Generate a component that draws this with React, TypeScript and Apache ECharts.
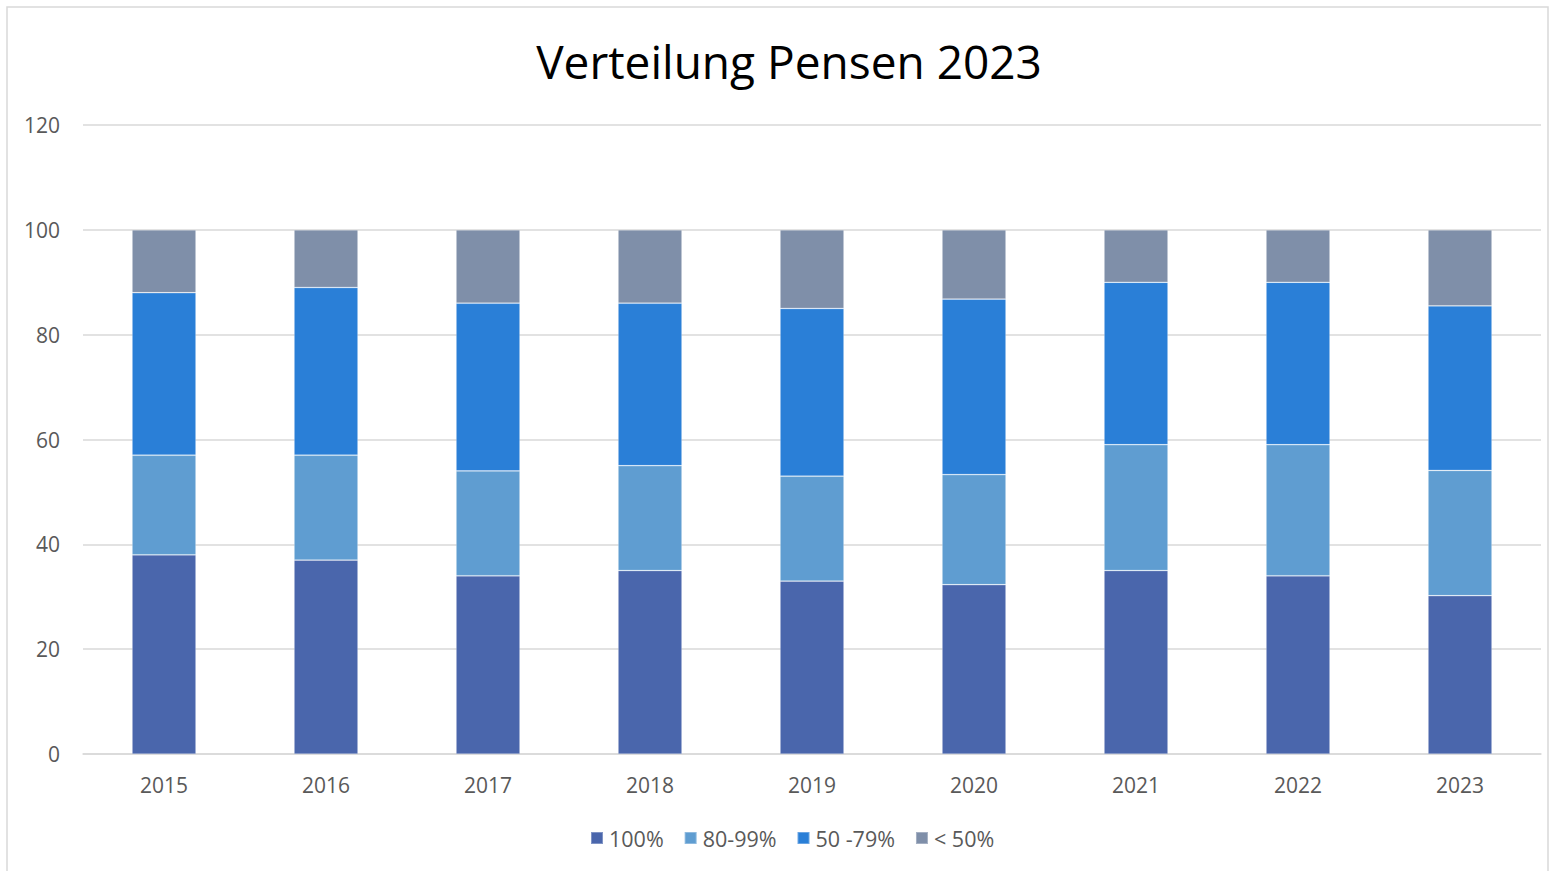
import React, { useEffect, useRef } from "react";
import * as echarts from "echarts";

const years = ["2015", "2016", "2017", "2018", "2019", "2020", "2021", "2022", "2023"];
const full = [38, 37, 34, 35, 33, 32.3, 35, 34, 30.2];
const p80 = [19, 20, 20, 20, 20, 21, 24, 25, 23.9];
const p50 = [31, 32, 32, 31, 32, 33.5, 31, 31, 31.4];
const below50 = [12, 11, 14, 14, 15, 13.2, 10, 10, 14.5];
const seriesNames = ["100%", "80-99%", "50 -79%", "< 50%"];
const colors = ["#4A66AC", "#5F9DD1", "#2A7FD7", "#7F8FA9"];
const titleText = "Verteilung Pensen 2023";

export default function App() {
  const ref = useRef<HTMLDivElement>(null);
  useEffect(() => {
    if (!ref.current) return;
    const chart = echarts.init(ref.current, undefined, { renderer: "svg" });
    const data = [full, p80, p50, below50];
    chart.setOption({
      animation: false,
      backgroundColor: "#ffffff",
      textStyle: { fontFamily: "'Open Sans', sans-serif" },
      graphic: [
        {
          type: "rect",
          shape: { x: 7, y: 7, width: 1541, height: 900 },
          style: { fill: "none", stroke: "#d9d9d9", lineWidth: 1.5 },
          silent: true,
        },
        {
          type: "text",
          x: 789,
          y: 61,
          style: {
            text: titleText,
            fontSize: 46,
            fontFamily: "'Open Sans', sans-serif",
            fill: "#000000",
            textAlign: "center",
            textVerticalAlign: "middle",
          },
          silent: true,
        },
      ],
      legend: {
        bottom: 17,
        left: 585,
        itemWidth: 12,
        itemHeight: 12,
        itemGap: 20,
        icon: "rect",
        textStyle: { fontSize: 21.5, color: "#595959", padding: [0, 0, 0, 1] },
        data: seriesNames,
      },
      grid: { left: 83, right: 12, top: 125, bottom: 117, containLabel: false },
      xAxis: {
        type: "category",
        data: years,
        axisLine: { lineStyle: { color: "#d9d9d9", width: 1.5 } },
        axisTick: { show: false },
        axisLabel: { fontSize: 21, color: "#595959", margin: 20 },
      },
      yAxis: {
        type: "value",
        min: 0,
        max: 120,
        interval: 20,
        axisLine: { show: false },
        axisTick: { show: false },
        splitLine: { lineStyle: { color: "#d9d9d9", width: 1.5 } },
        axisLabel: { fontSize: 21, color: "#595959", margin: 23 },
      },
      series: seriesNames.map((name, i) => ({
        name,
        type: "bar",
        stack: "total",
        barWidth: 64,
        data: data[i],
        itemStyle: { color: colors[i], borderColor: "rgba(255,255,255,0.3)", borderWidth: 0.75 },
      })),
    });
    return () => chart.dispose();
  }, []);
  return (
    <div
      ref={ref}
      style={{ position: "fixed", left: 0, top: 0, width: 1553, height: 871 }}
    />
  );
}
